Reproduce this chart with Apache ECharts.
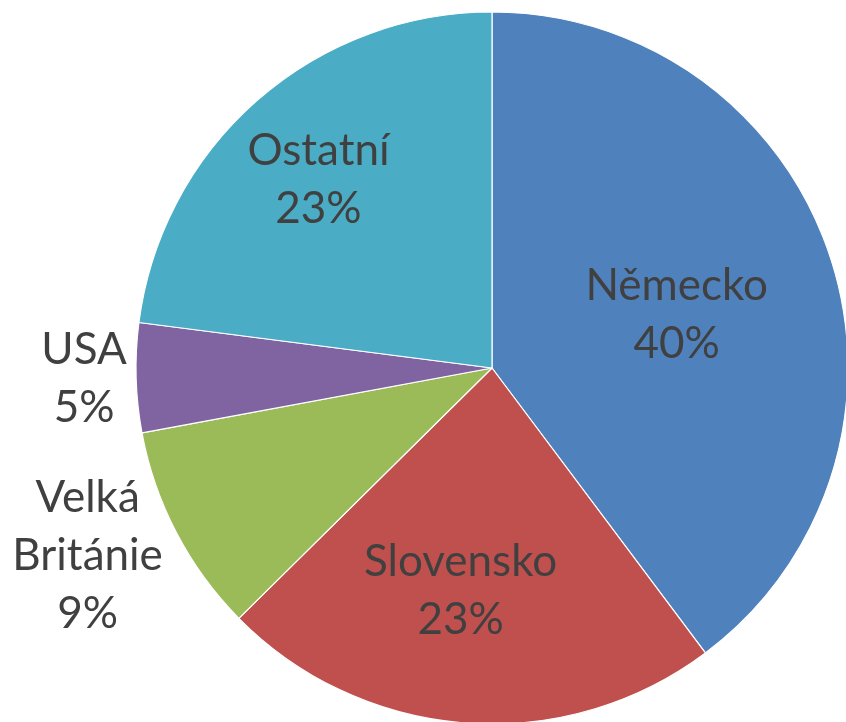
<!DOCTYPE html>
<html>
<head>
<meta charset="utf-8">
<script src="https://cdn.jsdelivr.net/npm/echarts@6/dist/echarts.min.js"></script>
<style>
  html, body { margin: 0; padding: 0; background: #fff; }
  #chart { width: 846px; height: 722px; }
</style>
</head>
<body>
<div id="chart"></div>
<script>
const countries = ["Německo", "Slovensko", "Velká Británie", "USA", "Ostatní"];
const shares = [39.77, 22.82, 9.49, 4.96, 22.96];
const colors = ["#4f81bd", "#c0504d", "#9bbb59", "#8064a2", "#4bacc6"];

// nudges from the default inside spot, per slice
const labelShift = {
  "Německo": [13, 4],
  "Slovensko": [-18, 42],
  "Velká Británie": [-244, 104],
  "USA": [-227, 6],
  "Ostatní": [-54, -52]
};

const chart = echarts.init(document.getElementById("chart"), null, { renderer: "canvas" });

chart.setOption({
  animation: false,
  series: [{
    type: "pie",
    center: [492, 368],
    radius: [0, 356],
    startAngle: 90,
    clockwise: true,
    silent: true,
    itemStyle: { borderColor: "#ffffff", borderWidth: 1.2 },
    label: {
      position: "inside",
      color: "#404040",
      fontFamily: "Lato",
      fontSize: 44,
      lineHeight: 58,
      align: "center",
      formatter: (p) => p.name.replace(" ", "\n") + "\n" + Math.round(p.percent) + "%"
    },
    labelLine: { show: false },
    data: countries.map((name, i) => ({
      name,
      value: shares[i],
      itemStyle: { color: colors[i] },
      label: { offset: labelShift[name] }
    }))
  }]
});
</script>
</body>
</html>
